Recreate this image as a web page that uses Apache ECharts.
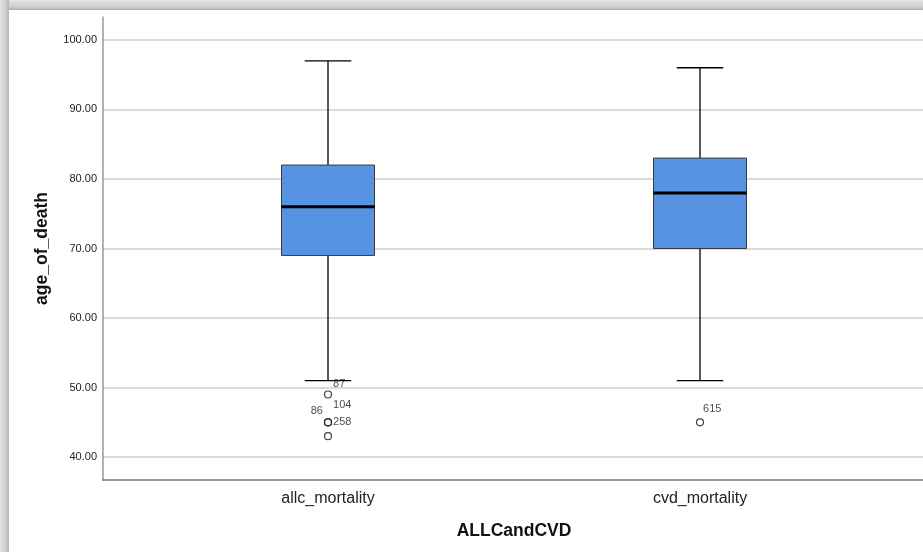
<!DOCTYPE html>
<html>
<head>
<meta charset="utf-8">
<script src="https://cdn.jsdelivr.net/npm/echarts@6/dist/echarts.min.js"></script>
<style>html,body{margin:0;padding:0;background:#fff;}#c{width:923px;height:552px;}</style>
</head>
<body>
<div id="c"></div>
<script>
// ---- data ----
var categories = ['allc_mortality', 'cvd_mortality'];
// [lower whisker, Q1, median, Q3, upper whisker]
var boxStats = [
  [51, 69, 76, 82, 97],
  [51, 70, 78, 83, 96]
];
// outliers: [categoryIndex, value]
var outlierPoints = [[0, 49], [0, 45], [0, 45], [0, 45], [0, 43], [1, 45]];
var outlierLabels = ['87', '104', '86', '258', '', '615'];
var yTicks = [40, 50, 60, 70, 80, 90, 100];
var xTitle = 'ALLCandCVD';
var yTitle = 'age_of_death';

// ---- styling / layout ----
var yMin = 36.7, yMax = 103.3;
var labelPlacement = [
  {position: 'right', offset: [-4, -11]},
  {position: 'right', offset: [-4, -17]},
  {position: 'left', offset: [4, -11]},
  {position: 'right', offset: [-4, 0]},
  {position: 'right', offset: [0, 0]},
  {position: 'right', offset: [-6, -13]}
];
var font = 'Liberation Sans, Arial, sans-serif';

var chart = echarts.init(document.getElementById('c'), null, {renderer: 'canvas'});

var customData = boxStats.map(function (s, i) { return [i].concat(s); });

var scatterData = outlierPoints.map(function (p, i) {
  return {
    value: p,
    label: {
      show: outlierLabels[i] !== '',
      formatter: outlierLabels[i],
      position: labelPlacement[i].position,
      offset: labelPlacement[i].offset
    }
  };
});

var option = {
  backgroundColor: '#ffffff',
  animation: false,
  graphic: [
    {type: 'rect', left: 0, top: 0, shape: {width: 923, height: 10}, z: 100,
     style: {fill: new echarts.graphic.LinearGradient(0, 0, 0, 1, [
       {offset: 0, color: '#e4e4e4'}, {offset: 0.7, color: '#cfcfcf'}, {offset: 1, color: '#a9a9a9'}])}},
    {type: 'rect', left: 0, top: 0, shape: {width: 9, height: 552}, z: 100,
     style: {fill: new echarts.graphic.LinearGradient(0, 0, 1, 0, [
       {offset: 0, color: '#e4e4e4'}, {offset: 0.5, color: '#d2d2d2'}, {offset: 1, color: '#b5b5b5'}])}}
  ],
  grid: [
    {left: 103, right: 0, top: 17, bottom: 72},
    {left: 142, right: 37, top: 17, bottom: 72}
  ],
  xAxis: [
    {gridIndex: 0, type: 'value', min: 0, max: 1,
     axisLine: {show: true, onZero: false, lineStyle: {color: '#777', width: 1.5}},
     axisTick: {show: false}, axisLabel: {show: false}, splitLine: {show: false}},
    {gridIndex: 1, type: 'category', data: categories,
     axisLine: {show: false}, axisTick: {show: false},
     axisLabel: {color: '#222', fontSize: 16, fontFamily: font, margin: 11},
     name: xTitle, nameLocation: 'middle', nameGap: 42,
     nameTextStyle: {color: '#111', fontSize: 17.5, fontWeight: 'bold', fontFamily: font}}
  ],
  yAxis: [
    {gridIndex: 0, type: 'value', min: yMin, max: yMax,
     axisLine: {show: true, lineStyle: {color: '#999', width: 1.5}},
     axisTick: {show: false, customValues: yTicks},
     axisLabel: {customValues: yTicks, color: '#222', fontSize: 11, fontFamily: font, margin: 6,
                 formatter: function (v) { return v.toFixed(2); }},
     splitLine: {show: true, lineStyle: {color: '#cfcfcf', width: 1.5}},
     name: yTitle, nameLocation: 'middle', nameGap: 52,
     nameTextStyle: {color: '#111', fontSize: 17.5, fontWeight: 'bold', fontFamily: font}},
    {gridIndex: 1, type: 'value', min: yMin, max: yMax, show: false, splitLine: {show: false}}
  ],
  series: [
    {
      type: 'custom', xAxisIndex: 1, yAxisIndex: 1, z: 5,
      data: customData,
      renderItem: function (params, api) {
        var idx = api.value(0);
        var low = api.coord([idx, api.value(1)]);
        var q1 = api.coord([idx, api.value(2)]);
        var med = api.coord([idx, api.value(3)]);
        var q3 = api.coord([idx, api.value(4)]);
        var high = api.coord([idx, api.value(5)]);
        var band = api.size([1, 0])[0];
        var hw = band * 0.125;
        var cw = hw / 2;
        var x = low[0];
        var line = {stroke: '#000', lineWidth: 1.3};
        return {
          type: 'group',
          children: [
            {type: 'line', shape: {x1: x, y1: high[1], x2: x, y2: q3[1]}, style: line},
            {type: 'line', shape: {x1: x, y1: q1[1], x2: x, y2: low[1]}, style: line},
            {type: 'line', shape: {x1: x - cw, y1: high[1], x2: x + cw, y2: high[1]}, style: line},
            {type: 'line', shape: {x1: x - cw, y1: low[1], x2: x + cw, y2: low[1]}, style: line},
            {type: 'rect', shape: {x: x - hw, y: q3[1], width: hw * 2, height: q1[1] - q3[1]},
             style: {fill: '#5693e3', stroke: '#3a3a3a', lineWidth: 1}},
            {type: 'line', shape: {x1: x - hw, y1: med[1], x2: x + hw, y2: med[1]},
             style: {stroke: '#000', lineWidth: 3}}
          ]
        };
      }
    },
    {
      type: 'scatter', xAxisIndex: 1, yAxisIndex: 1, z: 6,
      symbol: 'circle', symbolSize: 7,
      itemStyle: {color: '#fff', borderColor: '#111', borderWidth: 1.2},
      label: {show: true, color: '#222', fontSize: 11, fontFamily: font},
      emphasis: {disabled: true},
      data: scatterData
    }
  ]
};
chart.setOption(option);
</script>
</body>
</html>
